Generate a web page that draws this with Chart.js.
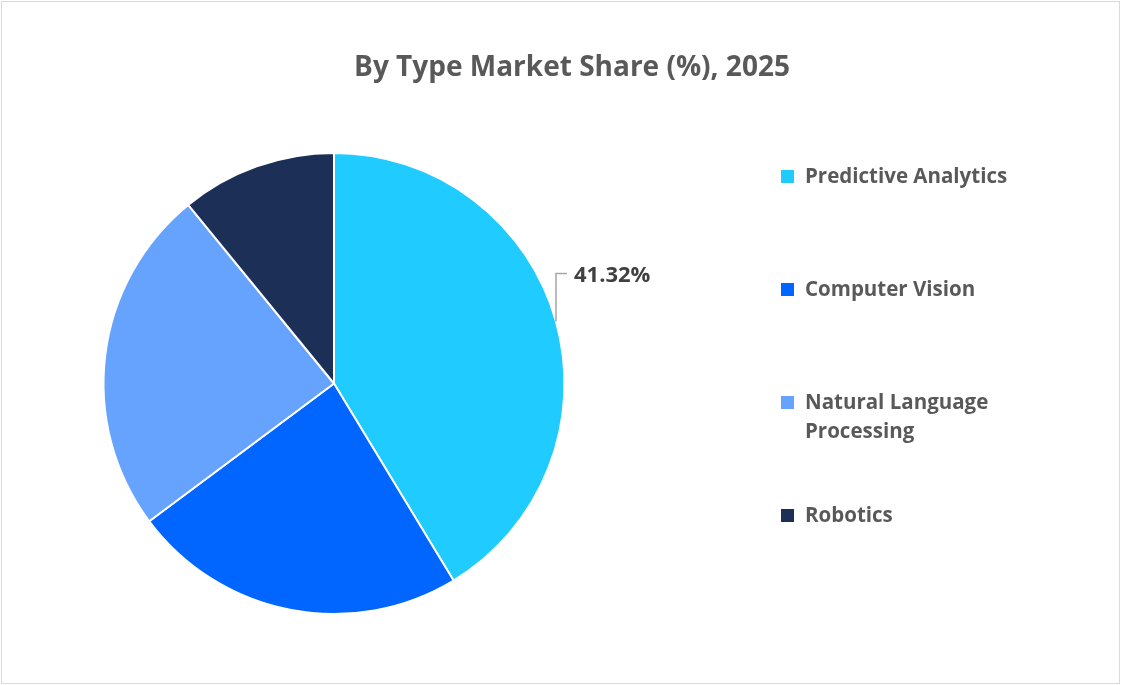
<!DOCTYPE html>
<html>
<head>
<meta charset="utf-8">
<script src="https://cdn.jsdelivr.net/npm/chart.js@4.4.1/dist/chart.umd.min.js"></script>
<style>
    html, body { margin: 0; padding: 0; background: #fff; }
    #wrap { position: relative; width: 1121px; height: 685px; }
</style>
</head>
<body>
<div id="wrap"><canvas id="typeShareChart"></canvas></div>
<script>
// Market share by type, 2025 (%)
const categories = ['Predictive Analytics', 'Computer Vision', 'Natural Language Processing', 'Robotics'];
const shares = [41.32, 23.48, 24.3, 10.9];
const sliceColors = ['#1FCBFF', '#0066FF', '#66A3FF', '#1B2F57'];
const labelledSlices = [0]; // only the first slice carries a value label
const chartTitle = 'By Type Market Share (%), 2025';

const FONT = '"Open Sans", Lato, sans-serif';

// title centred over the whole canvas (the pie sits to the left)
const topTitle = {
    id: 'topTitle',
    afterDraw(chart) {
        const ctx = chart.ctx;
        ctx.save();
        ctx.font = 'bold 28px ' + FONT;
        ctx.fillStyle = '#595959';
        ctx.textAlign = 'center';
        ctx.textBaseline = 'middle';
        ctx.fillText(chartTitle, 572, 68);
        ctx.restore();
    }
};

// legend on the right, drawn by hand so long names can wrap
const sideLegend = {
    id: 'sideLegend',
    afterDraw(chart) {
        const ctx = chart.ctx;
        const ds = chart.data.datasets[0];
        ctx.save();
        ctx.font = 'bold 20.5px ' + FONT;
        ctx.textBaseline = 'middle';
        ctx.textAlign = 'left';
        chart.data.labels.forEach(function(name, i) {
            const y = 177 + i * 113;
            ctx.fillStyle = ds.backgroundColor[i];
            ctx.fillRect(781, y - 7, 13, 13);
            // wrap the name at ~220px
            const words = name.split(' ');
            const lines = [];
            let line = '';
            words.forEach(function(w) {
                const test = line ? line + ' ' + w : w;
                if (line && ctx.measureText(test).width > 220) {
                    lines.push(line);
                    line = w;
                } else {
                    line = test;
                }
            });
            lines.push(line);
            ctx.fillStyle = '#595959';
            lines.forEach(function(l, j) {
                ctx.fillText(l, 805, y + j * 29);
            });
        });
        ctx.restore();
    }
};

// value label with an elbow leader line
const leaderLabels = {
    id: 'leaderLabels',
    afterDatasetsDraw(chart) {
        const ctx = chart.ctx;
        const meta = chart.getDatasetMeta(0);
        ctx.save();
        labelledSlices.forEach(function(i) {
            const arc = meta.data[i];
            const mid = (arc.startAngle + arc.endAngle) / 2;
            const x0 = arc.x + Math.cos(mid) * arc.outerRadius;
            const y0 = arc.y + Math.sin(mid) * arc.outerRadius;
            const yTop = y0 - 48;
            ctx.strokeStyle = '#A6A6A6';
            ctx.lineWidth = 1.5;
            ctx.beginPath();
            ctx.moveTo(x0, y0);
            ctx.lineTo(x0, yTop);
            ctx.lineTo(x0 + 11, yTop);
            ctx.stroke();
            ctx.font = 'bold 22px ' + FONT;
            ctx.fillStyle = '#404040';
            ctx.textAlign = 'left';
            ctx.textBaseline = 'middle';
            ctx.fillText(chart.data.datasets[0].data[i].toFixed(2) + '%', x0 + 18, yTop + 2);
        });
        ctx.restore();
    }
};

const frame = {
    id: 'frame',
    afterDraw(chart) {
        const ctx = chart.ctx;
        ctx.save();
        ctx.strokeStyle = '#D9D9D9';
        ctx.lineWidth = 1;
        ctx.strokeRect(1.5, 1.5, chart.width - 3, chart.height - 3);
        ctx.restore();
    }
};

const ctxShare = document.getElementById('typeShareChart').getContext('2d');
new Chart(ctxShare, {
    type: 'pie',
    data: {
        labels: categories,
        datasets: [{
            label: 'Market Share (%)',
            data: shares,
            backgroundColor: sliceColors,
            borderColor: '#FFFFFF',
            borderWidth: 2
        }]
    },
    options: {
        responsive: true,
        maintainAspectRatio: false,
        animation: false,
        layout: { padding: { left: 102, right: 555, top: 152, bottom: 70 } },
        plugins: {
            legend: { display: false },
            tooltip: { enabled: false },
            title: { display: false }
        }
    },
    plugins: [leaderLabels, sideLegend, topTitle, frame]
});
</script>
</body>
</html>
